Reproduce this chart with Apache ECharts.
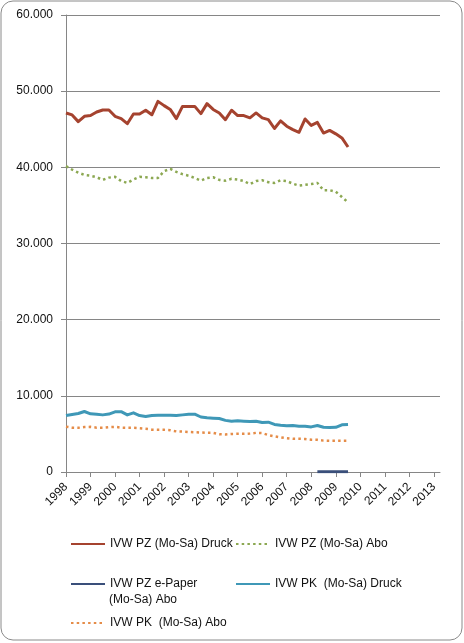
<!DOCTYPE html>
<html>
<head>
<meta charset="utf-8">
<script src="https://cdn.jsdelivr.net/npm/echarts@6/dist/echarts.min.js"></script>
<style>
    html, body { margin: 0; padding: 0; background: #fff; }
    #container { width: 464px; height: 643px; }
</style>
</head>
<body>
<div id="container"></div>
<script type="text/javascript">
    // Jahre auf der x-Achse, Daten quartalsweise
    var years = ['1998', '1999', '2000', '2001', '2002', '2003', '2004', '2005',
        '2006', '2007', '2008', '2009', '2010', '2011', '2012', '2013'];
    var yTicks = [0, 10000, 20000, 30000, 40000, 50000, 60000];

    var pzDruck = [47140, 46880, 46000, 46700, 46800, 47270, 47530, 47530, 46700, 46400,
        45730, 47000, 47000, 47500, 46900, 48660, 48100, 47600, 46400, 48000,
        48000, 48000, 47050, 48360, 47600, 47140, 46260, 47500, 46800, 46800,
        46500, 47140, 46500, 46260, 45100, 46100, 45400, 44950, 44600, 46350,
        45500, 45900, 44500, 44850, 44400, 43860, 42670];
    var pzAbo = [40150, 39700, 39300, 39000, 38900, 38700, 38350, 38650, 38750, 38200,
        37950, 38400, 38750, 38700, 38600, 38600, 39500, 39800, 39400, 39100,
        38900, 38600, 38250, 38600, 38700, 38350, 38250, 38500, 38400, 38200,
        37800, 38200, 38300, 38050, 37950, 38300, 38200, 37850, 37600, 37700,
        37800, 37950, 37000, 37000, 36800, 36100, 35400];
    var ePaperStart = 41; // 2008 Q2
    var ePaper = [30, 30, 30, 30, 30, 30];
    var pkDruck = [7420, 7560, 7680, 7940, 7640, 7590, 7500, 7600, 7900, 7920,
        7500, 7770, 7410, 7290, 7430, 7450, 7450, 7450, 7410, 7500,
        7570, 7590, 7220, 7110, 7070, 7020, 6780, 6650, 6720, 6670,
        6630, 6670, 6500, 6540, 6250, 6140, 6060, 6100, 6010, 6010,
        5920, 6100, 5870, 5840, 5860, 6200, 6240];
    var pkAbo = [5950, 5820, 5800, 5900, 5930, 5820, 5820, 5900, 5930, 5820,
        5800, 5800, 5750, 5680, 5560, 5540, 5540, 5480, 5330, 5310,
        5250, 5220, 5180, 5140, 5140, 4960, 4930, 5000, 5010, 5010,
        5050, 5140, 5100, 4850, 4680, 4550, 4440, 4360, 4360, 4330,
        4230, 4220, 4120, 4100, 4100, 4100, 4100];

    var names = ['IVW PZ (Mo-Sa) Druck', 'IVW PZ (Mo-Sa) Abo', 'IVW PZ e-Paper (Mo-Sa) Abo',
        'IVW PK  (Mo-Sa) Druck', 'IVW PK  (Mo-Sa) Abo'];

    // Quartale 1998 Q1 .. 2013 Q2
    var quarters = [];
    years.forEach(function (y) {
        for (var q = 1; q <= 4; q++) quarters.push(y + ' Q' + q);
    });
    quarters = quarters.slice(0, 62);

    var ePaperData = [];
    for (var i = 0; i < ePaperStart; i++) ePaperData.push(null);
    ePaperData = ePaperData.concat(ePaper);

    function fmt(v) {
        return String(v).replace(/\B(?=(\d{3})+(?!\d))/g, '.');
    }

    var font = '"Liberation Sans", Arial, sans-serif';
    var txt = {fontFamily: font, fontSize: 12, color: '#111'};

    function line(name, data, color, type, width) {
        return {
            name: name,
            type: 'line',
            data: data,
            symbol: 'none',
            smooth: false,
            animation: false,
            lineStyle: {color: color, width: width, type: type, cap: 'butt', join: 'round'},
            itemStyle: {color: color}
        };
    }

    function legend(name, left, top) {
        return {
            data: [name],
            left: left,
            top: top,
            padding: 0,
            itemWidth: 34,
            itemHeight: 14,
            itemGap: 0,
            itemStyle: {color: 'rgba(0,0,0,0)', borderWidth: 0},
            textStyle: txt,
            formatter: function (n) {
                return n === names[2] ? 'IVW PZ e-Paper' : n;
            }
        };
    }

    var myChart = echarts.init(document.getElementById('container'));
    var option = {
        animation: false,
        backgroundColor: '#fff',
        grid: {left: 66, right: 24, top: 15, bottom: 171},
        graphic: [
            {
                type: 'rect',
                shape: {x: 1, y: 1, width: 461, height: 639, r: 12},
                style: {fill: 'none', stroke: '#8a8a8a', lineWidth: 1},
                z: -1
            },
            {
                type: 'text',
                left: 109,
                top: 594,
                style: {text: '(Mo-Sa) Abo', font: '12px ' + font, fill: '#111'}
            }
        ],
        legend: [
            legend(names[0], 70, 538),
            legend(names[1], 235, 538),
            legend(names[2], 70, 578),
            legend(names[3], 235, 578),
            legend(names[4], 70, 617)
        ],
        xAxis: {
            type: 'category',
            data: quarters,
            boundaryGap: false,
            axisLine: {lineStyle: {color: '#868686', width: 1}},
            axisTick: {show: true, interval: 3, length: 5, lineStyle: {color: '#868686'}},
            axisLabel: {
                interval: 3,
                rotate: 45,
                margin: 13,
                fontFamily: font,
                fontSize: 12,
                color: '#111',
                formatter: function (v) { return v.slice(0, 4); }
            },
            splitLine: {show: false}
        },
        yAxis: {
            type: 'value',
            min: yTicks[0],
            max: yTicks[yTicks.length - 1],
            interval: yTicks[1] - yTicks[0],
            axisLine: {show: true, lineStyle: {color: '#868686', width: 1}},
            axisTick: {show: true, length: 5, lineStyle: {color: '#868686'}},
            axisLabel: {margin: 13, fontFamily: font, fontSize: 12, color: '#111', formatter: fmt},
            splitLine: {show: true, lineStyle: {color: '#868686', width: 1}}
        },
        series: [
            line(names[0], pzDruck, '#A5432F', 'solid', 3),
            line(names[1], pzAbo, '#8CA852', [2.5, 3.2], 2.5),
            line(names[2], ePaperData, '#3A4F7A', 'solid', 3),
            line(names[3], pkDruck, '#3F98B7', 'solid', 3),
            line(names[4], pkAbo, '#E58C48', [2.5, 3.2], 2.5)
        ]
    };
    if (option && typeof option === "object") {
        myChart.setOption(option, true);
    }
</script>
</body>
</html>
